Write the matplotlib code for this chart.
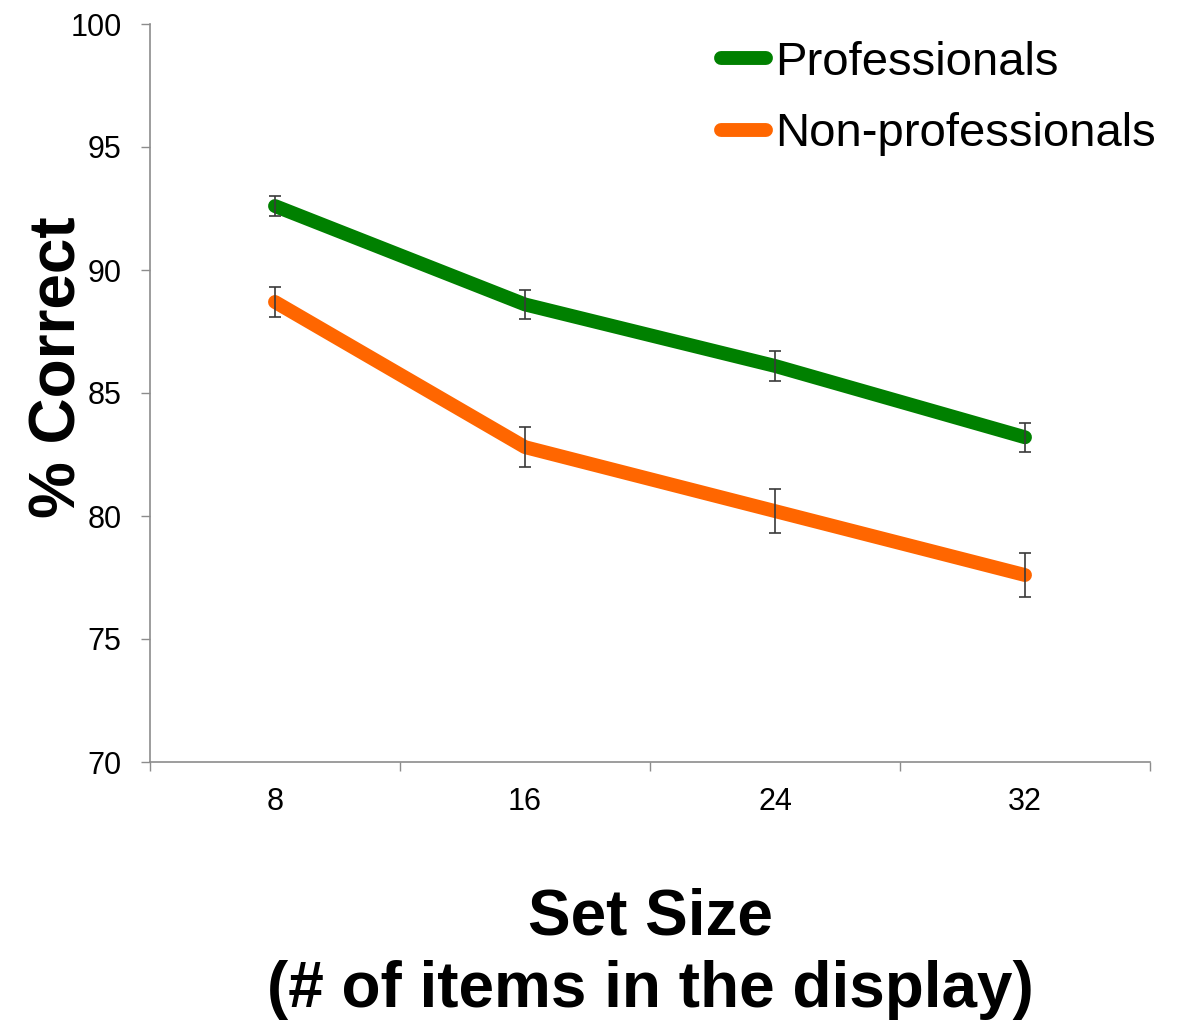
import numpy as np
import matplotlib
matplotlib.use("Agg")
import matplotlib.pyplot as plt

plt.rcParams['font.family'] = ['Liberation Sans', 'DejaVu Sans']

# data: percent correct by set size
set_sizes = ['8', '16', '24', '32']
prof_mean = [92.6, 88.6, 86.1, 83.2]
prof_err = [0.4, 0.6, 0.6, 0.6]
nonprof_mean = [88.7, 82.8, 80.2, 77.6]
nonprof_err = [0.6, 0.8, 0.9, 0.9]

green = '#008000'
orange = '#FF6600'
axis_grey = '#8C8C8C'

fig = plt.figure(figsize=(11.9, 10.25), dpi=100)
ax = fig.add_axes([150/1190, 1 - 762/1025, 1000/1190, 738/1025])

x = np.arange(len(set_sizes))

ax.plot(x, prof_mean, color=green, lw=10, solid_capstyle='round',
        solid_joinstyle='round', label='Professionals', zorder=2)
ax.plot(x, nonprof_mean, color=orange, lw=10, solid_capstyle='round',
        solid_joinstyle='round', label='Non-professionals', zorder=2)

for m, e in [(prof_mean, prof_err), (nonprof_mean, nonprof_err)]:
    ax.errorbar(x, m, yerr=e, fmt='none', ecolor='#3a3a3a', elinewidth=1.2,
                capsize=4.5, capthick=1.2, zorder=3)

ax.set_xlim(-0.5, len(set_sizes) - 0.5)
ax.set_ylim(70, 100)
ax.set_yticks(np.arange(70, 101, 5))

# category boundaries get the tick marks, labels sit in between
ax.set_xticks(np.arange(-0.5, len(set_sizes)), labels=[''] * (len(set_sizes) + 1))
ax.set_xticks(x, labels=set_sizes, minor=True)
ax.tick_params(axis='x', which='major', direction='out', length=6.5,
               width=1, color=axis_grey)
ax.tick_params(axis='x', which='minor', length=0, pad=18, labelsize=22)
ax.tick_params(axis='y', direction='out', length=6.5, width=1,
               color=axis_grey, pad=14, labelsize=22)

for s in ['top', 'right']:
    ax.spines[s].set_visible(False)
for s in ['left', 'bottom']:
    ax.spines[s].set_color(axis_grey)
    ax.spines[s].set_linewidth(1.2)

ax.set_ylabel('% Correct', fontsize=46, fontweight='bold', va='center')
ax.yaxis.set_label_coords(-0.091, 0.535)
ax.set_xlabel('Set Size\n(# of items in the display)', fontsize=46,
              fontweight='bold', linespacing=1.25, labelpad=51)

ax.legend(loc='upper left', bbox_to_anchor=(0.571, 0.977), frameon=False,
          fontsize=34, handlelength=0.95, handletextpad=0.2,
          labelspacing=0.58, borderpad=0, borderaxespad=0)

fig.savefig('out.png', dpi=100)
